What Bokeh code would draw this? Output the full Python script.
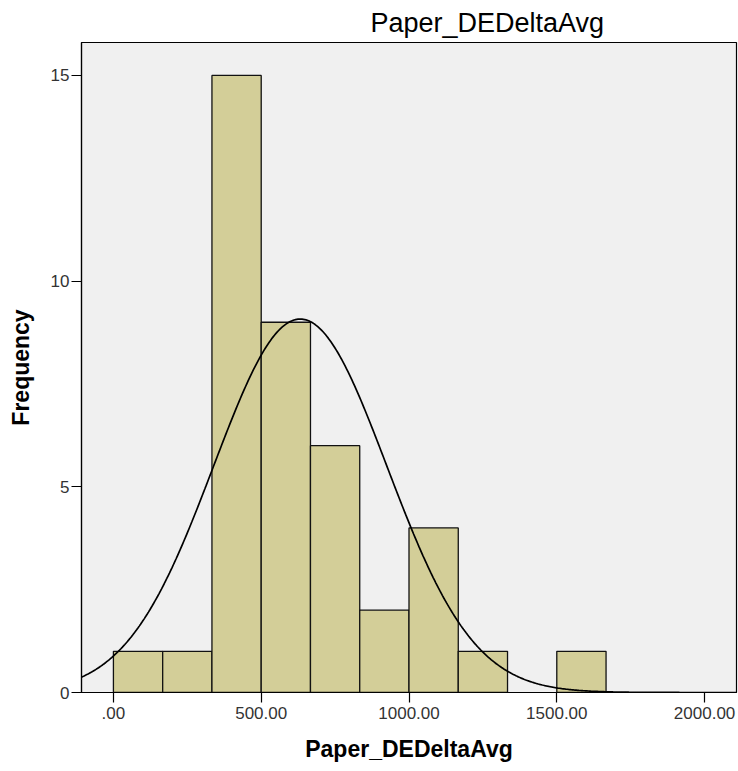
import numpy as np
from bokeh.plotting import figure
from bokeh.models import Range1d, FixedTicker, Title
from bokeh.embed import file_html
from bokeh.resources import INLINE

# ---- data ----
bin_left = [0.0, 166.67, 333.33, 500.0, 666.67, 833.33, 1000.0, 1166.67, 1333.33, 1500.0]
bin_right = [166.67, 333.33, 500.0, 666.67, 833.33, 1000.0, 1166.67, 1333.33, 1500.0, 1666.67]
counts = [1, 1, 15, 9, 6, 2, 4, 1, 0, 1]
x_ticks = [0, 500, 1000, 1500, 2000]
x_tick_labels = [".00", "500.00", "1000.00", "1500.00", "2000.00"]
y_ticks = [0, 5, 10, 15]
curve_mean = 632.0
curve_sd = 293.0
n_total = 40
bin_width = 166.67

X_START, X_END = -108, 2108
Y_END = 15.8

FONT = "Liberation Sans"

p = figure(width=738, height=771, output_backend="svg", toolbar_location=None,
           x_range=Range1d(X_START, X_END), y_range=Range1d(0, Y_END),
           min_border_left=81, min_border_right=2, min_border_top=40, min_border_bottom=79)

p.background_fill_color = "#F0F0F0"
p.border_fill_color = "white"
p.outline_line_color = "black"
p.outline_line_width = 1.2
p.grid.visible = False

# bars (skip empty bins)
bl = [l for l, c in zip(bin_left, counts) if c > 0]
br = [r for r, c in zip(bin_right, counts) if c > 0]
bc = [c for c in counts if c > 0]
p.quad(left=bl, right=br, bottom=0, top=bc, fill_color="#D3CE98",
       line_color="#111111", line_width=1.3)

# fitted normal curve
xs = np.linspace(X_START, X_END, 500)
ys = n_total * bin_width / (curve_sd * np.sqrt(2 * np.pi)) * np.exp(-0.5 * ((xs - curve_mean) / curve_sd) ** 2)
p.line(xs, ys, line_color="black", line_width=1.7)

# axes
p.xaxis.ticker = FixedTicker(ticks=x_ticks)
p.xaxis.major_label_overrides = {t: s for t, s in zip(x_ticks, x_tick_labels)}
p.yaxis.ticker = FixedTicker(ticks=y_ticks)
for ax in (p.xaxis, p.yaxis):
    ax.minor_tick_line_color = None
    ax.major_tick_in = 0
    ax.major_tick_out = 10
    ax.major_tick_line_color = "black"
    ax.major_tick_line_width = 1.2
    ax.axis_line_color = "black"
    ax.axis_line_width = 1.2
    ax.major_label_text_font = FONT
    ax.major_label_text_font_size = "17px"
    ax.major_label_text_color = "#333333"
    ax.axis_label_text_font = FONT
    ax.axis_label_text_font_size = "23px"
    ax.axis_label_text_font_style = "bold"
    ax.axis_label_text_color = "black"

p.xaxis.axis_label = "Paper_DEDeltaAvg"
p.yaxis.axis_label = "Frequency"
p.xaxis.major_label_standoff = 4
p.xaxis.axis_label_standoff = 14
p.yaxis.major_label_standoff = 2
p.yaxis.axis_label_standoff = 14

p.add_layout(Title(text="Paper_DEDeltaAvg", align="left", offset=289,
                   text_font=FONT, text_font_size="27px", text_font_style="normal",
                   text_color="black"), "above")

open("out.html", "w").write(file_html(p, INLINE))
